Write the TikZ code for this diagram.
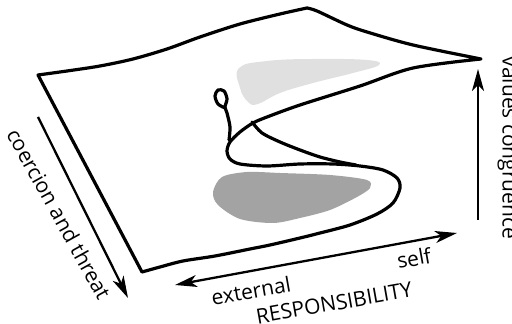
\documentclass[tikz,border=0pt]{standalone}
\usepackage{fontspec}
\setmainfont{Open Sans}
\usetikzlibrary{arrows.meta}
\begin{document}
\begin{tikzpicture}[x=0.5pt,y=-0.5pt,
  >={Stealth[length=11pt,width=6pt,inset=3pt]},
  sheet/.style={line width=1.6pt, line join=round, line cap=round},
  axis/.style={line width=1.15pt},
  lbl/.style={font=\fontsize{10.5}{12}\selectfont, inner sep=0pt}]
\useasboundingbox (0,0) rectangle (512,324);
\fill[black!12] plot[smooth cycle, tension=0.7] coordinates {(239,68) (267,61) (313,59) (367,60) (379,65) (353,73) (313,83) (280,93) (258,104) (248,102) (240,88)};
\fill[black!36] plot[smooth cycle] coordinates {(222,177) (247,172) (280,173) (330,175) (367,180) (370,188) (357,197) (330,210) (300,218) (273,223) (240,219) (218,205) (213,192)};
\draw[sheet] plot[smooth] coordinates {(38,75) (67,71) (100,66) (133,59) (167,49) (200,37) (240,24) (280,14) (307,8)}
  -- plot[smooth] coordinates {(307,8) (317,11) (347,25) (367,32) (413,45) (481,59)}
  -- plot[smooth] coordinates {(481,59) (413,68) (360,86) (300,105) (267,117) (253,123) (240,132) (230,142) (227,151) (230,159) (240,164) (267,166) (300,164) (333,164) (360,166) (383,170) (397,178) (400,188) (393,203) (377,214) (350,225) (320,233) (300,238) (270,245) (250,249) (215,256) (183,261) (160,267) (142,272)}
  -- cycle;
\draw[sheet] plot[smooth] coordinates {(252,122) (262,133) (280,142) (300,150) (320,157) (340,162) (356,165)};
\draw[sheet] plot[smooth] coordinates {(229,140) (230,127) (227,113) (225,107) (227,99) (224,91) (218,90) (215,96) (218,104) (225,108)};
\coordinate (coerTop) at (38,117);
\coordinate (coerEnd) at (128,298);
\coordinate (extEnd) at (175,285);
\coordinate (selfEnd) at (457,233);
\coordinate (valLow) at (478,220);
\coordinate (valTop) at (478,69);
\draw[axis,->] (coerTop) -- (coerEnd);
\draw[axis,<->] (extEnd) -- (selfEnd);
\draw[axis,->] (valLow) -- (valTop);
\node[lbl, rotate=-61] (coercion) at (59,214) {coercion and threat};
\node[lbl, rotate=10] (external) at (251,291) {external};
\node[lbl, rotate=10] (resp) at (334,303) {RESPONSIBILITY};
\node[lbl, rotate=10] (self) at (414,258) {self};
\node[lbl, rotate=-90] (values) at (508,148) {values congruence};
\end{tikzpicture}
\end{document}
